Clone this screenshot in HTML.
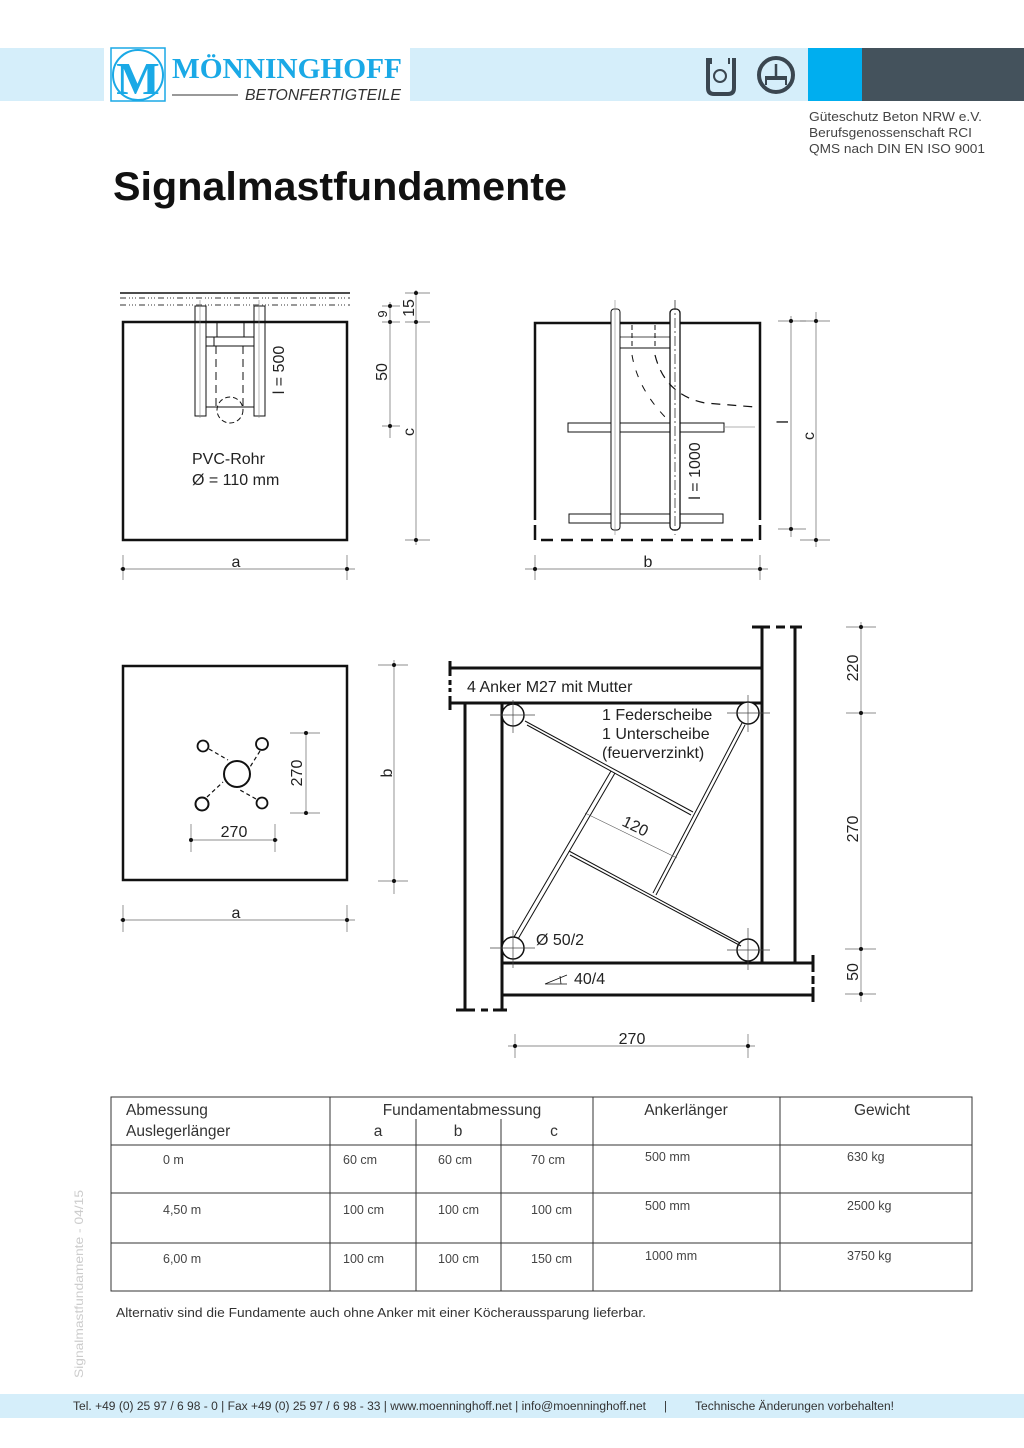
<!DOCTYPE html>
<html><head><meta charset="utf-8"><style>
html,body{margin:0;padding:0;background:#fff}
svg{display:block}
text{font-family:"Liberation Sans",sans-serif}
</style></head><body>
<svg width="1024" height="1448" viewBox="0 0 1024 1448" xmlns="http://www.w3.org/2000/svg">
<!-- header -->
<rect x="0" y="48" width="808" height="53" fill="#d5eefa"/>
<rect x="104" y="48" width="306" height="53" fill="#fff"/>
<rect x="808" y="48" width="54" height="53" fill="#00aeef"/>
<rect x="862" y="48" width="162" height="53" fill="#44525c"/>
<rect x="111" y="48" width="54" height="53" fill="none" stroke="#1aa9e6" stroke-width="1.5"/>
<ellipse cx="138" cy="75" rx="25" ry="25" fill="none" stroke="#1aa9e6" stroke-width="2"/>
<text x="138" y="94" font-size="46" font-weight="bold" style="font-family:'Liberation Serif',serif" fill="#1aa9e6" text-anchor="middle">M</text>
<text x="172" y="78" font-size="29" font-weight="bold" style="font-family:'Liberation Serif',serif" fill="#1aa9e6" textLength="230" lengthAdjust="spacingAndGlyphs">MÖNNINGHOFF</text>
<line x1="172" y1="95" x2="238" y2="95" stroke="#333" stroke-width="1"/>
<text x="245" y="100" font-size="16" font-style="italic" fill="#333" textLength="156" lengthAdjust="spacingAndGlyphs">BETONFERTIGTEILE</text>
<!-- icons -->
<path d="M708 58 v30 q0 6 6 6 h14 q6 0 6-6 v-30" fill="none" stroke="#3a4650" stroke-width="4"/>
<circle cx="720" cy="76" r="6" fill="none" stroke="#3a4650" stroke-width="2"/>
<line x1="711" y1="58" x2="711" y2="64" stroke="#3a4650" stroke-width="2"/>
<line x1="729" y1="58" x2="729" y2="64" stroke="#3a4650" stroke-width="2"/>
<circle cx="776" cy="75" r="17" fill="none" stroke="#3a4650" stroke-width="4"/>
<rect x="765" y="76" width="22" height="4" fill="#3a4650"/>
<line x1="776" y1="64" x2="776" y2="76" stroke="#3a4650" stroke-width="2.5"/>
<line x1="766" y1="80" x2="766" y2="85" stroke="#3a4650" stroke-width="2"/>
<line x1="786" y1="80" x2="786" y2="85" stroke="#3a4650" stroke-width="2"/>
<g font-size="12.5" fill="#444">
<text x="809" y="121" textLength="173" lengthAdjust="spacingAndGlyphs">Güteschutz Beton NRW e.V.</text>
<text x="809" y="137" textLength="163" lengthAdjust="spacingAndGlyphs">Berufsgenossenschaft RCI</text>
<text x="809" y="153" textLength="176" lengthAdjust="spacingAndGlyphs">QMS nach DIN EN ISO 9001</text>
</g>
<text x="113" y="200" font-size="40" font-weight="bold" fill="#111" textLength="454" lengthAdjust="spacingAndGlyphs">Signalmastfundamente</text>

<g fill="none" stroke="#111">
<!-- Diagram 1 -->
<line x1="120" y1="293" x2="350" y2="293" stroke-width="1.5"/>
<line x1="120" y1="298" x2="350" y2="298" stroke="#999" stroke-width="2" stroke-dasharray="6 3 1 2 1 2 1 3"/>
<line x1="120" y1="305" x2="350" y2="305" stroke="#999" stroke-width="2" stroke-dasharray="6 3 1 2 1 2 1 3"/>
<rect x="123" y="322" width="224" height="218" stroke-width="2.5"/>
<rect x="195" y="306" width="11" height="110" stroke-width="1"/>
<rect x="254" y="306" width="11" height="110" stroke-width="1"/>
<line x1="206" y1="407" x2="254" y2="407" stroke-width="1"/>
<line x1="206" y1="337" x2="254" y2="337" stroke-width="1"/>
<line x1="206" y1="346" x2="254" y2="346" stroke-width="1"/>
<line x1="217" y1="322" x2="217" y2="337" stroke-width="1"/>
<line x1="244" y1="322" x2="244" y2="337" stroke-width="1"/>
<line x1="214" y1="337" x2="214" y2="346" stroke-width="1"/>
<line x1="216" y1="346" x2="216" y2="408" stroke-width="1" stroke-dasharray="8 5"/>
<line x1="243" y1="346" x2="243" y2="408" stroke-width="1" stroke-dasharray="8 5"/>
<circle cx="230" cy="410" r="13" stroke-width="1" stroke-dasharray="5 3"/>
<line x1="200" y1="300" x2="200" y2="418" stroke="#888" stroke-width="0.6"/>
<line x1="259" y1="300" x2="259" y2="418" stroke="#888" stroke-width="0.6"/>
<g stroke="#666" stroke-width="0.7">
<line x1="120" y1="569" x2="355" y2="569"/><line x1="123" y1="555" x2="123" y2="580"/><line x1="347" y1="555" x2="347" y2="580"/>
<line x1="390" y1="302" x2="390" y2="438"/><line x1="382" y1="306" x2="400" y2="306"/><line x1="382" y1="322" x2="400" y2="322"/><line x1="382" y1="426" x2="400" y2="426"/>
<line x1="416" y1="290" x2="416" y2="545"/><line x1="405" y1="293" x2="430" y2="293"/><line x1="405" y1="322" x2="430" y2="322"/><line x1="405" y1="540" x2="430" y2="540"/>
</g>
<!-- Diagram 2 -->
<path d="M535 520 V323 H760 V520" stroke-width="2.5"/>
<line x1="541" y1="540" x2="760" y2="540" stroke-width="2.5" stroke-dasharray="12 8"/>
<line x1="535" y1="525" x2="535" y2="540" stroke-width="2.5"/>
<line x1="760" y1="525" x2="760" y2="540" stroke-width="2.5"/>
<rect x="568" y="423" width="156" height="9" stroke-width="1"/>
<rect x="569" y="514" width="154" height="9" stroke-width="1"/>
<rect x="611" y="309" width="9" height="221" rx="3" fill="#fff" stroke-width="1"/>
<rect x="670" y="309" width="10" height="221" rx="4" fill="#fff" stroke-width="1.3"/>
<line x1="615" y1="300" x2="615" y2="535" stroke="#888" stroke-width="0.6"/>
<line x1="675" y1="300" x2="675" y2="535" stroke="#333" stroke-width="0.8" stroke-dasharray="10 3 2 3"/>
<line x1="620" y1="337" x2="670" y2="337" stroke-width="0.8"/>
<line x1="620" y1="348" x2="670" y2="348" stroke-width="1"/>
<line x1="632" y1="325" x2="632" y2="348" stroke-width="1" stroke-dasharray="5 3"/>
<line x1="655" y1="325" x2="655" y2="348" stroke-width="1" stroke-dasharray="5 3"/>
<path d="M632 355 Q638 390 668 420" stroke-width="1" stroke-dasharray="7 9"/>
<path d="M655 355 Q665 395 705 403 L755 407" stroke-width="1.2" stroke-dasharray="9 7"/>
<line x1="724" y1="427" x2="755" y2="427" stroke="#999" stroke-width="0.7"/>
<g stroke="#666" stroke-width="0.7">
<line x1="525" y1="569" x2="768" y2="569"/><line x1="535" y1="555" x2="535" y2="580"/><line x1="760" y1="555" x2="760" y2="580"/>
<line x1="791" y1="316" x2="791" y2="537"/><line x1="778" y1="321" x2="806" y2="321"/><line x1="778" y1="529" x2="806" y2="529"/>
<line x1="816" y1="312" x2="816" y2="547"/><line x1="800" y1="321" x2="830" y2="321"/><line x1="800" y1="540" x2="830" y2="540"/>
</g>
<!-- Diagram 3 -->
<rect x="123" y="666" width="224" height="214" stroke-width="2.5"/>
<circle cx="237" cy="774" r="13" stroke-width="2"/>
<circle cx="203" cy="746" r="5.5" stroke-width="1.8"/>
<circle cx="262" cy="744" r="6" stroke-width="1.8"/>
<circle cx="202" cy="804" r="6.5" stroke-width="2"/>
<circle cx="262" cy="803" r="5.5" stroke-width="1.8"/>
<g stroke-width="1.2" stroke-dasharray="4 3">
<line x1="209" y1="749" x2="228" y2="760"/><line x1="260" y1="751" x2="250" y2="767"/>
<line x1="207" y1="797" x2="223" y2="782"/><line x1="256" y1="799" x2="240" y2="790"/>
</g>
<g stroke="#666" stroke-width="0.7">
<line x1="190" y1="840" x2="278" y2="840"/><line x1="191" y1="824" x2="191" y2="852"/><line x1="275" y1="824" x2="275" y2="852"/>
<line x1="306" y1="733" x2="306" y2="815"/><line x1="290" y1="733" x2="320" y2="733"/><line x1="290" y1="813" x2="320" y2="813"/>
<line x1="394" y1="660" x2="394" y2="894"/><line x1="378" y1="665" x2="408" y2="665"/><line x1="378" y1="881" x2="408" y2="881"/>
<line x1="120" y1="920" x2="355" y2="920"/><line x1="123" y1="905" x2="123" y2="932"/><line x1="347" y1="905" x2="347" y2="932"/>
</g>
<!-- Diagram 4 -->
<g stroke-width="3">
<line x1="450" y1="668" x2="762" y2="668"/>
<line x1="450" y1="703" x2="762" y2="703"/>
<line x1="450" y1="661" x2="450" y2="676"/>
<line x1="450" y1="696" x2="450" y2="710"/>
<line x1="450" y1="680" x2="450" y2="692" stroke-dasharray="5 3"/>
<line x1="762" y1="627" x2="762" y2="963"/>
<line x1="795" y1="627" x2="795" y2="963"/>
<line x1="752" y1="627" x2="770" y2="627"/><line x1="776" y1="627" x2="785" y2="627"/><line x1="790" y1="627" x2="802" y2="627"/>
<line x1="465" y1="703" x2="465" y2="1010"/>
<line x1="502" y1="703" x2="502" y2="1010"/>
<line x1="456" y1="1010" x2="475" y2="1010"/><line x1="481" y1="1010" x2="488" y2="1010"/><line x1="493" y1="1010" x2="507" y2="1010"/>
<line x1="502" y1="963" x2="813" y2="963"/>
<line x1="502" y1="995" x2="813" y2="995"/>
<line x1="813" y1="955" x2="813" y2="972"/><line x1="813" y1="987" x2="813" y2="1002"/>
<line x1="813" y1="976" x2="813" y2="984"/>
</g>
<g stroke-width="1.5" fill="#fff">
<circle cx="513" cy="715" r="11"/><circle cx="748" cy="713" r="11"/>
<circle cx="513" cy="948" r="11"/><circle cx="748" cy="950" r="11"/>
</g>
<g stroke="#444" stroke-width="0.7">
<line x1="490" y1="715" x2="535" y2="715"/><line x1="513" y1="700" x2="513" y2="733"/>
<line x1="727" y1="713" x2="770" y2="713"/><line x1="748" y1="695" x2="748" y2="732"/>
<line x1="490" y1="948" x2="535" y2="948"/><line x1="513" y1="930" x2="513" y2="968"/>
<line x1="727" y1="950" x2="770" y2="950"/><line x1="748" y1="928" x2="748" y2="970"/>
</g>
<g stroke-width="1">
<line x1="525" y1="721" x2="693" y2="812"/><line x1="527" y1="725" x2="691" y2="815"/>
<line x1="742" y1="723" x2="653" y2="893"/><line x1="745" y1="725" x2="656" y2="895"/>
<line x1="514" y1="937" x2="611" y2="771"/><line x1="518" y1="939" x2="615" y2="773"/>
<line x1="569" y1="851" x2="740" y2="943"/><line x1="570" y1="855" x2="741" y2="946"/>
</g>
<line x1="585" y1="813" x2="677" y2="858" stroke="#555" stroke-width="0.6"/>
<path d="M545 984 L567 975 M545 984 L567 984 M560 976 L561 984" stroke-width="0.8"/>
<g stroke="#666" stroke-width="0.7">
<line x1="861" y1="622" x2="861" y2="1002"/>
<line x1="846" y1="627" x2="876" y2="627"/><line x1="846" y1="713" x2="876" y2="713"/>
<line x1="845" y1="949" x2="876" y2="949"/><line x1="845" y1="994" x2="876" y2="994"/>
<line x1="508" y1="1046" x2="755" y2="1046"/><line x1="515" y1="1034" x2="515" y2="1058"/><line x1="748" y1="1034" x2="748" y2="1058"/>
</g>
</g>
<g fill="#111">
<circle cx="123" cy="569" r="2"/><circle cx="347" cy="569" r="2"/>
<circle cx="390" cy="306" r="2"/><circle cx="390" cy="322" r="2"/><circle cx="390" cy="426" r="2"/>
<circle cx="416" cy="293" r="2"/><circle cx="416" cy="322" r="2"/><circle cx="416" cy="540" r="2"/>
<circle cx="535" cy="569" r="2"/><circle cx="760" cy="569" r="2"/>
<circle cx="791" cy="321" r="2"/><circle cx="791" cy="529" r="2"/><circle cx="816" cy="321" r="2"/><circle cx="816" cy="540" r="2"/>
<circle cx="191" cy="840" r="2"/><circle cx="275" cy="840" r="2"/><circle cx="306" cy="733" r="2"/><circle cx="306" cy="813" r="2"/>
<circle cx="394" cy="665" r="2"/><circle cx="394" cy="881" r="2"/><circle cx="123" cy="920" r="2"/><circle cx="347" cy="920" r="2"/>
<circle cx="861" cy="627" r="2"/><circle cx="861" cy="713" r="2"/><circle cx="861" cy="949" r="2"/><circle cx="861" cy="994" r="2"/>
<circle cx="515" cy="1046" r="2"/><circle cx="748" cy="1046" r="2"/>
</g>
<g font-size="16" fill="#222">
<text x="236" y="567" text-anchor="middle">a</text>
<text x="648" y="567" text-anchor="middle">b</text>
<text x="236" y="918" text-anchor="middle">a</text>
<text x="192" y="464">PVC-Rohr</text>
<text x="192" y="485">Ø = 110 mm</text>
<text x="234" y="837" text-anchor="middle">270</text>
<text x="632" y="1044" text-anchor="middle">270</text>
<text x="467" y="692">4 Anker M27 mit Mutter</text>
<text x="602" y="720">1 Federscheibe</text>
<text x="602" y="739">1 Unterscheibe</text>
<text x="602" y="758">(feuerverzinkt)</text>
<text x="536" y="945">Ø 50/2</text>
<text x="574" y="984">40/4</text>
<text transform="translate(633,831) rotate(26)" text-anchor="middle">120</text>
<text transform="translate(284,370) rotate(-90)" text-anchor="middle">l = 500</text>
<text transform="translate(387,372) rotate(-90)" text-anchor="middle">50</text>
<text transform="translate(387,314) rotate(-90)" text-anchor="middle" font-size="13">9</text>
<text transform="translate(414,308) rotate(-90)" text-anchor="middle">15</text>
<text transform="translate(414,432) rotate(-90)" text-anchor="middle">c</text>
<text transform="translate(700,471) rotate(-90)" text-anchor="middle">l = 1000</text>
<text transform="translate(788,422) rotate(-90)" text-anchor="middle">l</text>
<text transform="translate(814,436) rotate(-90)" text-anchor="middle">c</text>
<text transform="translate(302,773) rotate(-90)" text-anchor="middle">270</text>
<text transform="translate(392,773) rotate(-90)" text-anchor="middle">b</text>
<text transform="translate(858,668) rotate(-90)" text-anchor="middle">220</text>
<text transform="translate(858,829) rotate(-90)" text-anchor="middle">270</text>
<text transform="translate(858,972) rotate(-90)" text-anchor="middle">50</text>
</g>
<!-- table -->
<g stroke="#333" stroke-width="1" fill="none">
<rect x="111" y="1097" width="861" height="194"/>
<line x1="111" y1="1145" x2="972" y2="1145"/>
<line x1="111" y1="1193" x2="972" y2="1193"/>
<line x1="111" y1="1243" x2="972" y2="1243"/>
<line x1="330" y1="1097" x2="330" y2="1291"/>
<line x1="593" y1="1097" x2="593" y2="1291"/>
<line x1="780" y1="1097" x2="780" y2="1291"/>
<line x1="416" y1="1119" x2="416" y2="1291"/>
<line x1="501" y1="1119" x2="501" y2="1291"/>
</g>
<g font-size="15.5" fill="#333">
<text x="126" y="1115">Abmessung</text>
<text x="126" y="1136">Auslegerlänger</text>
<text x="462" y="1115" text-anchor="middle">Fundamentabmessung</text>
<text x="378" y="1136" text-anchor="middle">a</text>
<text x="458" y="1136" text-anchor="middle">b</text>
<text x="554" y="1136" text-anchor="middle">c</text>
<text x="686" y="1115" text-anchor="middle">Ankerlänger</text>
<text x="882" y="1115" text-anchor="middle">Gewicht</text>
</g>
<g font-size="12.5" fill="#444">
<text x="163" y="1164">0 m</text><text x="343" y="1164">60 cm</text><text x="438" y="1164">60 cm</text><text x="531" y="1164">70 cm</text><text x="645" y="1161">500 mm</text><text x="847" y="1161">630 kg</text>
<text x="163" y="1214">4,50 m</text><text x="343" y="1214">100 cm</text><text x="438" y="1214">100 cm</text><text x="531" y="1214">100 cm</text><text x="645" y="1210">500 mm</text><text x="847" y="1210">2500 kg</text>
<text x="163" y="1263">6,00 m</text><text x="343" y="1263">100 cm</text><text x="438" y="1263">100 cm</text><text x="531" y="1263">150 cm</text><text x="645" y="1260">1000 mm</text><text x="847" y="1260">3750 kg</text>
</g>
<text x="116" y="1317" font-size="12.5" fill="#333" textLength="530" lengthAdjust="spacingAndGlyphs">Alternativ sind die Fundamente auch ohne Anker mit einer Köcheraussparung lieferbar.</text>
<text transform="translate(83,1378) rotate(-90)" font-size="12" fill="#ccc" textLength="188" lengthAdjust="spacingAndGlyphs">Signalmastfundamente - 04/15</text>
<!-- footer -->
<rect x="0" y="1394" width="1024" height="24" fill="#d5eefa"/>
<text x="73" y="1410" font-size="11.5" fill="#333" textLength="573" lengthAdjust="spacingAndGlyphs">Tel. +49 (0) 25 97 / 6 98 - 0 | Fax +49 (0) 25 97 / 6 98 - 33 | www.moenninghoff.net | info@moenninghoff.net</text>
<text x="664" y="1410" font-size="11.5" fill="#333">|</text>
<text x="695" y="1410" font-size="11.5" fill="#333" textLength="199" lengthAdjust="spacingAndGlyphs">Technische Änderungen vorbehalten!</text>
</svg>
</body></html>
